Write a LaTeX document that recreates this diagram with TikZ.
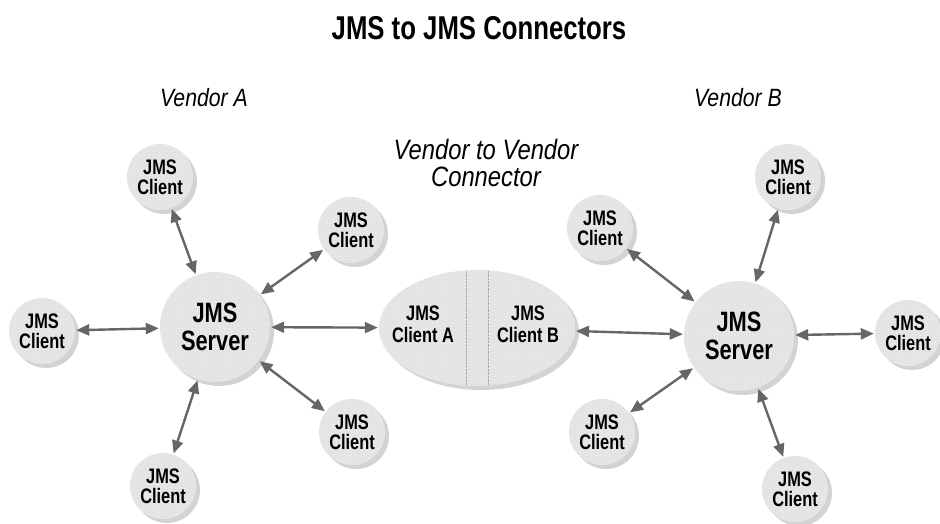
\documentclass[tikz,border=0pt]{standalone}
\usepackage{fontspec}
\setmainfont{Liberation Sans}
\newfontfamily\condfont[FakeStretch=0.78]{Liberation Sans}
\newfontfamily\vendfont[FakeStretch=0.85]{Liberation Sans}
\usetikzlibrary{positioning, arrows.meta, shapes.geometric, shadows, patterns}
\definecolor{bubble}{gray}{0.89}
\definecolor{linkgray}{gray}{0.4}

\begin{document}
\begin{tikzpicture}[x=1pt, y=-1pt,
    bubbleshape/.style={fill=bubble, inner sep=0pt, align=center,
        drop shadow={shadow xshift=4pt, shadow yshift=-4pt, opacity=0.35},
        postaction={pattern=dots, pattern color=white}},
    client/.style={circle, bubbleshape, minimum size=66pt,
        font=\condfont\bfseries\fontsize{21}{20}\selectfont},
    server/.style={circle, bubbleshape, minimum size=110pt,
        font=\condfont\bfseries\fontsize{28}{28}\selectfont},
    vendor/.style={font=\vendfont\itshape\fontsize{25}{26}\selectfont, align=center},
    link/.style={<->, >={Triangle[length=13pt, width=11pt]}, draw=linkgray,
        line width=2.4pt, shorten <=1pt, shorten >=1pt}]
    \useasboundingbox (0,0) rectangle (940,524);

    % Titles
    \node (title) at (479,28) [font=\condfont\bfseries\fontsize{33}{33}\selectfont] {JMS to JMS Connectors};
    \node (vendA) at (204,98) [vendor] {Vendor A};
    \node (vendB) at (738,98) [vendor] {Vendor B};
    \node (vendVV) at (486,163) [vendor, font=\vendfont\itshape\fontsize{28}{27}\selectfont] {Vendor to Vendor\\Connector};

    % Vendor A side
    \node (srvA) at (215,327) [server] {JMS\\Server};
    \node (cliA1) at (160,177) [client] {JMS\\Client};
    \node (cliA2) at (351,230) [client] {JMS\\Client};
    \node (cliA3) at (42,331) [client] {JMS\\Client};
    \node (cliA4) at (163,486) [client] {JMS\\Client};
    \node (cliA5) at (352,432) [client] {JMS\\Client};

    % Connector in the middle
    \node (conn) at (477,328) [ellipse, bubbleshape, minimum width=196pt, minimum height=116pt] {};
    \draw[gray!70, densely dotted] ([xshift=-11pt, yshift=-1pt]conn.north) -- ([xshift=-11pt, yshift=1pt]conn.south);
    \draw[gray!70, densely dotted] ([xshift=11pt, yshift=-1pt]conn.north) -- ([xshift=11pt, yshift=1pt]conn.south);
    \node (connA) at (423,324) [align=center, font=\condfont\bfseries\fontsize{21}{22}\selectfont] {JMS\\Client A};
    \node (connB) at (528,324) [align=center, font=\condfont\bfseries\fontsize{21}{22}\selectfont] {JMS\\Client B};

    % Vendor B side
    \node (srvB) at (739,336) [server] {JMS\\Server};
    \node (cliB1) at (788,177) [client] {JMS\\Client};
    \node (cliB2) at (600,228) [client] {JMS\\Client};
    \node (cliB3) at (908,333) [client] {JMS\\Client};
    \node (cliB4) at (602,432) [client] {JMS\\Client};
    \node (cliB5) at (795,489) [client] {JMS\\Client};

    % Arrows
    \draw[link] (cliA1) -- (srvA);
    \draw[link] (cliA2) -- (srvA);
    \draw[link] (cliA3) -- (srvA);
    \draw[link] (cliA4) -- (srvA);
    \draw[link] (cliA5) -- (srvA);
    \draw[link] (srvA) -- (conn);
    \draw[link] (conn) -- (srvB);
    \draw[link] (cliB1) -- (srvB);
    \draw[link] (cliB2) -- (srvB);
    \draw[link] (cliB3) -- (srvB);
    \draw[link] (cliB4) -- (srvB);
    \draw[link] (cliB5) -- (srvB);
\end{tikzpicture}
\end{document}
